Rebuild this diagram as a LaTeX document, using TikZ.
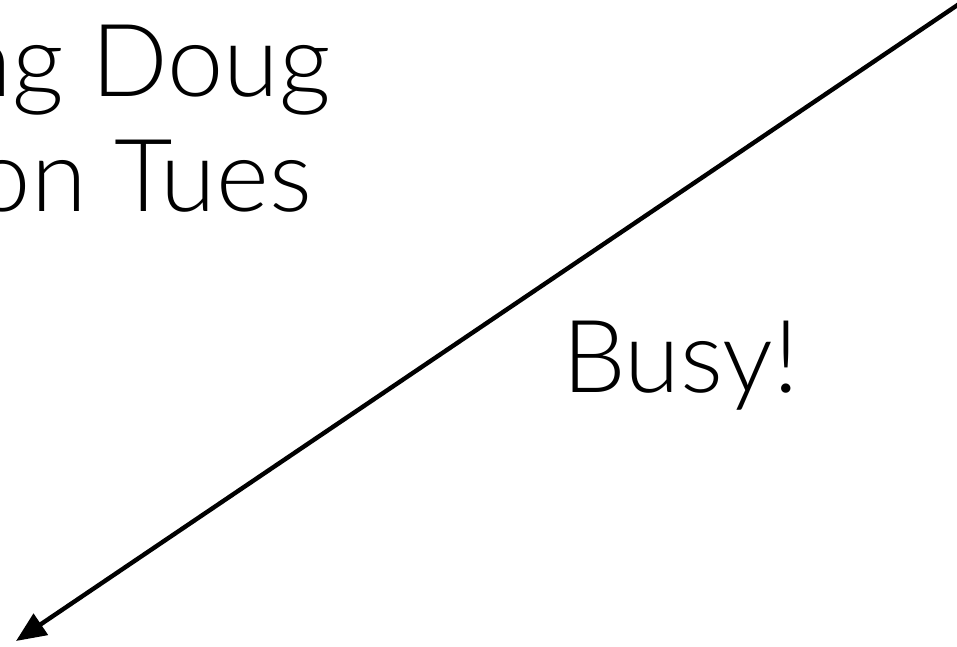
\documentclass[tikz,border=0pt]{standalone}
\usepackage{fontspec}
\setmainfont{Lato}[UprightFont=* Light]
\usetikzlibrary{arrows.meta}

\begin{document}
\begin{tikzpicture}[x=1pt,y=-1pt,
    bigtext/.style={inner sep=0pt,font=\fontsize{101}{115}\selectfont}]
    % Frame
    \clip (0,0) rectangle (957,646);
    \fill[white] (0,0) rectangle (957,646);

    % Note text
    \node[bigtext,anchor=base east] (doug) at (331,96) {ng Doug};
    \node[bigtext,anchor=base east] (tues) at (312,211) {on Tues};
    \node[bigtext,anchor=base west] (busy) at (562,392) {Busy!};

    % Arrow
    \coordinate (start) at (962,2);
    \coordinate (tip) at (16,641);
    \draw[-{Triangle[length=30pt,width=25pt]},line width=4.4pt] (start) -- (tip);
\end{tikzpicture}
\end{document}
